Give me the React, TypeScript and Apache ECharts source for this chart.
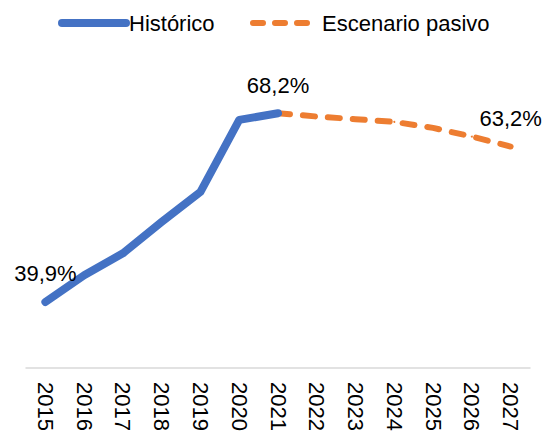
import React, { useEffect, useRef } from "react";
import * as echarts from "echarts";

const years = ["2015", "2016", "2017", "2018", "2019", "2020", "2021", "2022", "2023", "2024", "2025", "2026", "2027"];
const historico = [39.9, 43.9, 47.2, 51.9, 56.4, 67.2, 68.2, null, null, null, null, null, null];
const pasivo = [null, null, null, null, null, null, 68.2, 67.7, 67.3, 66.9, 66.0, 64.7, 63.2];
const historicoLabelIdx = [0, 6];
const pasivoLabelIdx = [12];

const fmt = (v: number) => v.toFixed(1).replace(".", ",") + "%";

function buildData(values: (number | null)[], labelIdx: number[]) {
  return values.map((v, i) =>
    v === null
      ? null
      : labelIdx.includes(i)
      ? { value: v, label: { show: true } }
      : { value: v }
  );
}

const solidIcon = "path://M4,0 H68 A4,4 0 0 1 68,8 H4 A4,4 0 0 1 4,0 Z";
const dashIcon =
  "path://M3,0 H13 A3,3 0 0 1 13,6 H3 A3,3 0 0 1 3,0 Z M25,0 H35 A3,3 0 0 1 35,6 H25 A3,3 0 0 1 25,0 Z M47,0 H57 A3,3 0 0 1 57,6 H47 A3,3 0 0 1 47,0 Z";

export default function App() {
  const ref = useRef<HTMLDivElement>(null);
  useEffect(() => {
    document.body.style.margin = "0";
    if (!ref.current) return;
    const chart = echarts.init(ref.current, null, { renderer: "svg" });
    const font = "'Liberation Sans', Arial, sans-serif";
    const labelCfg = {
      show: false,
      position: "top",
      distance: 16,
      fontSize: 22,
      color: "#000",
      fontFamily: font,
      formatter: (p: any) => fmt(p.value),
    };
    chart.setOption({
      animation: false,
      textStyle: { fontFamily: font },
      legend: [
        {
          top: 7,
          left: 53,
          itemWidth: 72,
          itemHeight: 8,
          textStyle: { fontSize: 22, color: "#000", fontFamily: font, padding: [0, 0, 0, -6] },
          data: [{ name: "Histórico", icon: solidIcon, itemStyle: { color: "#4472C4" } }],
        },
        {
          top: 7,
          left: 245,
          itemWidth: 60,
          itemHeight: 6,
          textStyle: { fontSize: 22, color: "#000", fontFamily: font, padding: [0, 0, 0, 7] },
          data: [{ name: "Escenario pasivo", icon: dashIcon, itemStyle: { color: "#ED7D31" } }],
        },
      ],
      grid: { left: 26, right: 15, top: 34.5, bottom: 68, containLabel: false },
      xAxis: {
        type: "category",
        data: years,
        boundaryGap: true,
        axisLine: { lineStyle: { color: "#d9d9d9", width: 1.5 } },
        axisTick: { show: false },
        axisLabel: { rotate: -90, fontSize: 22, color: "#000", margin: 14, fontFamily: font },
      },
      yAxis: {
        type: "value",
        min: 30,
        max: 80,
        show: false,
        splitLine: { show: false },
      },
      series: [
        {
          name: "Histórico",
          type: "line",
          data: buildData(historico, historicoLabelIdx),
          symbol: "circle",
          symbolSize: 2,
          showSymbol: true,
          itemStyle: { color: "#4472C4" },
          color: "#4472C4",
          lineStyle: { color: "#4472C4", width: 8, cap: "round", join: "round" },
          label: labelCfg,
          z: 3,
        },
        {
          name: "Escenario pasivo",
          type: "line",
          data: buildData(pasivo, pasivoLabelIdx),
          symbol: "circle",
          symbolSize: 2,
          showSymbol: true,
          itemStyle: { color: "#ED7D31" },
          color: "#ED7D31",
          lineStyle: { color: "#ED7D31", width: 6, type: [12, 13], cap: "round", join: "round" },
          label: labelCfg,
          z: 2,
        },
      ],
    });
    return () => chart.dispose();
  }, []);
  return <div ref={ref} style={{ width: 545, height: 436 }} />;
}
